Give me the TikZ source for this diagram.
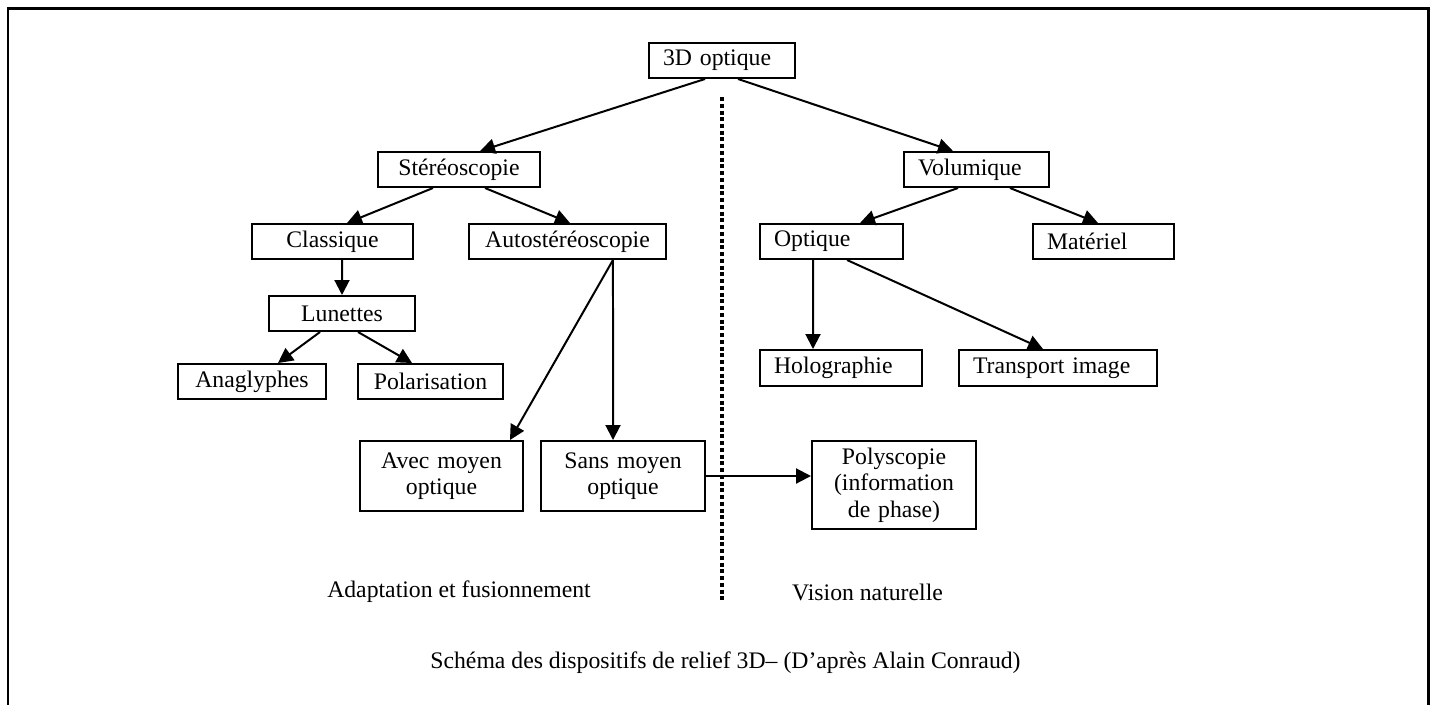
\documentclass[tikz,border=0pt]{standalone}
\usepackage{fontspec}
\setmainfont{Liberation Serif}
\usetikzlibrary{arrows.meta}

\tikzset{
  box/.style={draw, line width=0.04cm, inner xsep=0.28cm, inner ysep=1pt,
              minimum height=0.7cm, align=center},
  lbox/.style={box, align=left},
  fleche/.style={line width=0.04cm, -{Triangle[length=0.3cm,width=0.3cm]}}
}

\begin{document}
\begin{tikzpicture}[x=0.02cm, y=-0.02cm, font=\fontsize{13.5}{15}\selectfont]
         \useasboundingbox (0,0) rectangle (1434,704) ;
         % cadre
         \draw[line width=0.06cm] (8,710) -- (8,8) -- (1428,8) -- (1428,710) ;
         % separation
         \draw[line width=0.08cm, dash pattern=on 0.08cm off 0.055cm] (722,97) -- (722,602) ;
         % boites
         \node[lbox, text width=2.36cm] (top) at (722,60.5) {3D optique} ;
         \node[box, text width=2.68cm] (stereo) at (459,169.5) {Stéréoscopie} ;
         \node[lbox, text width=2.34cm] (volum) at (976.5,169.5) {Volumique} ;
         \node[box, text width=2.66cm] (classique) at (332.5,241.5) {Classique} ;
         \node[box, text width=3.38cm] (auto) at (567.5,241.5) {Autostéréoscopie} ;
         \node[lbox, text width=2.30cm] (optique) at (831.5,241.5) {Optique} ;
         \node[lbox, text width=2.26cm] (materiel) at (1103.5,241.5) {Matériel} ;
         \node[box, text width=2.36cm] (lunettes) at (342,313.5) {Lunettes} ;
         \node[box, text width=2.40cm] (anaglyphes) at (252,381.5) {Anaglyphes} ;
         \node[box, text width=2.34cm] (polar) at (430.5,381.5) {Polarisation} ;
         \node[lbox, text width=2.68cm, minimum height=0.72cm] (holo) at (841,368) {Holographie} ;
         \node[lbox, text width=3.40cm, minimum height=0.72cm] (transport) at (1058,368) {Transport image} ;
         \node[box, text width=2.70cm, minimum height=1.4cm] (avec) at (441.5,476) {Avec moyen\\optique} ;
         \node[box, text width=2.72cm, minimum height=1.4cm] (sans) at (623,476) {Sans moyen\\optique} ;
         \node[box, text width=2.72cm, minimum height=1.76cm] (poly) at (894,485) {Polyscopie\\(information\\de phase)} ;
         % fleches
         \draw[fleche] ([xshift=-0.34cm]top.south) -- ([xshift=0.42cm]stereo.north) ;
         \draw[fleche] ([xshift=0.32cm]top.south) -- ([xshift=-0.47cm]volum.north) ;
         \draw[fleche] ([xshift=-0.52cm]stereo.south) -- ([xshift=0.29cm]classique.north) ;
         \draw[fleche] ([xshift=0.52cm]stereo.south) -- ([xshift=0.05cm]auto.north) ;
         \draw[fleche] ([xshift=-0.37cm]volum.south) -- ([xshift=0.57cm]optique.north) ;
         \draw[fleche] ([xshift=0.67cm]volum.south) -- ([xshift=-0.11cm]materiel.north) ;
         \draw[fleche] ([xshift=0.19cm]classique.south) -- (lunettes.north) ;
         \draw[fleche] ([xshift=-0.44cm]lunettes.south) -- ([xshift=0.52cm]anaglyphes.north) ;
         \draw[fleche] ([xshift=0.32cm]lunettes.south) -- ([xshift=-0.37cm]polar.north) ;
         \draw[fleche] ([xshift=-0.37cm]optique.south) -- ([xshift=-0.56cm]holo.north) ;
         \draw[fleche] ([xshift=0.31cm]optique.south) -- ([xshift=-0.30cm]transport.north) ;
         \draw[fleche] ([xshift=0.91cm]auto.south) -- ([xshift=1.37cm]avec.north) ;
         \draw[fleche] ([xshift=0.91cm]auto.south) -- ([xshift=-0.20cm]sans.north) ;
         \draw[fleche] (sans.east) -- (sans.east -| poly.west) ;
         % legendes
         \node (adapt) at (459,592) {Adaptation et fusionnement} ;
         \node (vision) at (867.5,592) {Vision naturelle} ;
         \node (titre) at (725.5,663) {Schéma des dispositifs de relief 3D– (D'après Alain Conraud)} ;
\end{tikzpicture}
\end{document}
